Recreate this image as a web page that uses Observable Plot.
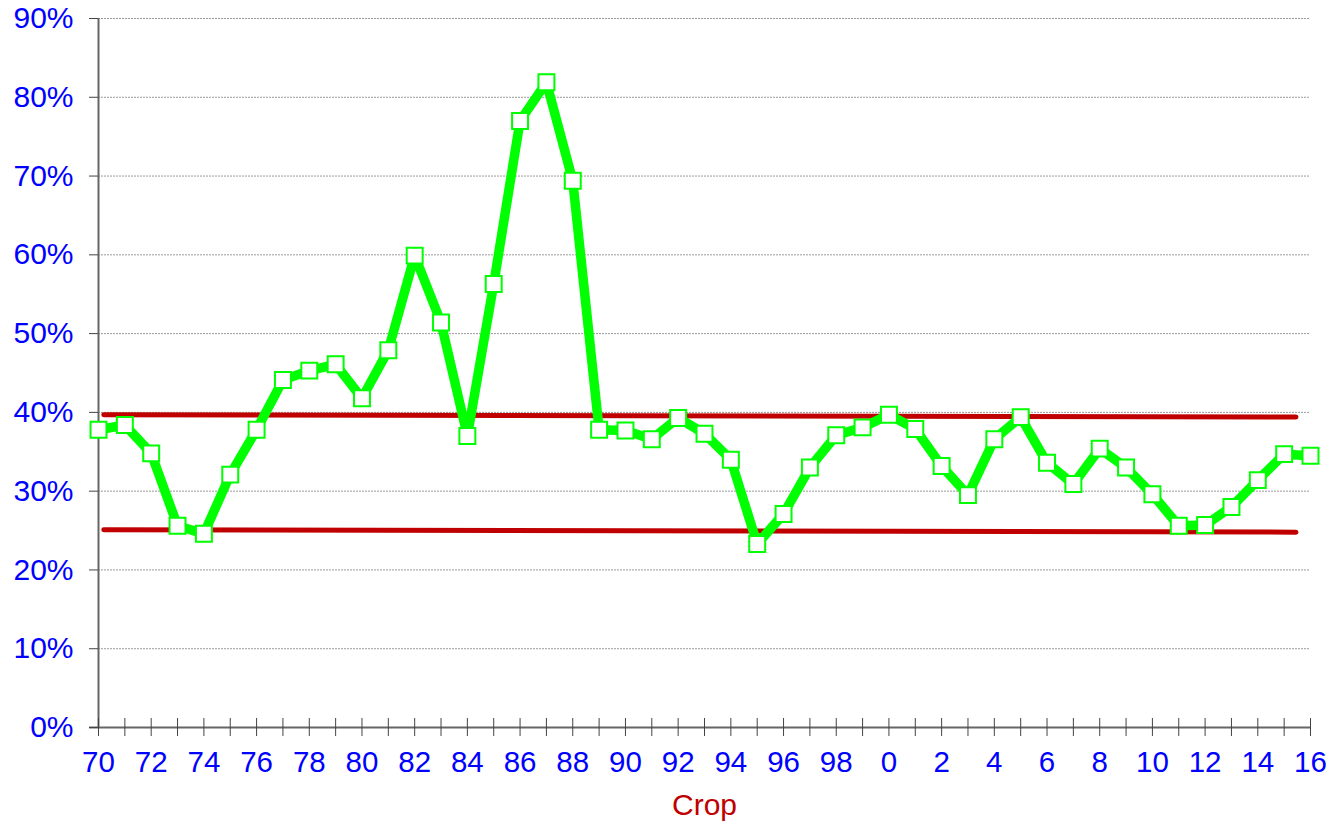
<!DOCTYPE html>
<html>
<head>
<meta charset="utf-8">
<script src="https://cdn.jsdelivr.net/npm/d3@7"></script>
<script src="https://cdn.jsdelivr.net/npm/@observablehq/plot@0.6"></script>
<style>
  html, body { margin: 0; padding: 0; background: #fff; }
  #chart svg { display: block; }
</style>
</head>
<body>
<div id="chart"></div>
<script>
// Crop years (labels as shown on the axis)
const crops = ["70","71","72","73","74","75","76","77","78","79",
               "80","81","82","83","84","85","86","87","88","89",
               "90","91","92","93","94","95","96","97","98","99",
               "0","1","2","3","4","5","6","7","8","9",
               "10","11","12","13","14","15","16"];
// Share (%) per crop year
const shares = [37.8, 38.4, 34.8, 25.6, 24.6, 32.1, 37.8, 44.1, 45.3, 46.1,
                41.8, 47.9, 59.9, 51.4, 37.0, 56.3, 77.0, 81.9, 69.4, 37.8,
                37.7, 36.6, 39.3, 37.3, 34.0, 23.3, 27.1, 33.0, 37.1, 38.1,
                39.7, 37.9, 33.2, 29.5, 36.6, 39.4, 33.6, 30.9, 35.4, 33.0,
                29.6, 25.6, 25.7, 28.0, 31.4, 34.7, 34.5];
// Band lines (position along crop index, value %)
const bandX = [0.2, 45.45];
const upperBand = [39.7, 39.4];
const lowerBand = [25.1, 24.8];
const yTicks = [0, 10, 20, 30, 40, 50, 60, 70, 80, 90];

const series = crops.map((c, i) => ({i, crop: c, v: shares[i]}));
const upper = bandX.map((x, k) => ({x, v: upperBand[k]}));
const lower = bandX.map((x, k) => ({x, v: lowerBand[k]}));
const allIdx = crops.map((c, i) => i);
const evenIdx = allIdx.filter(i => i % 2 === 0);

const blue = "#0000ff";
const red = "#c00000";
const green = "#00ff00";

const chart = Plot.plot({
  width: 1335,
  height: 825,
  marginLeft: 98,
  marginRight: 25,
  marginTop: 18,
  marginBottom: 98,
  style: {fontFamily: "Liberation Sans, Arial, sans-serif", background: "#fff"},
  x: {type: "linear", domain: [0, crops.length - 1]},
  y: {domain: [0, 90]},
  marks: [
    Plot.gridY(yTicks, {stroke: "#9a9a9a", strokeOpacity: 1, strokeWidth: 1, strokeDasharray: "2,1"}),
    Plot.ruleX([0], {stroke: "#666", strokeWidth: 2}),
    Plot.ruleY([0], {stroke: "#666", strokeWidth: 2, x1: -0.34, x2: crops.length - 1}),
    Plot.axisY(yTicks, {
      tickSize: 9, tickPadding: 16, stroke: "#444",
      tickFormat: d => d + "%", fill: blue, fontSize: 30, label: null
    }),
    Plot.axisX(allIdx, {
      tickSize: 18, dy: -9, tickFormat: () => "", stroke: "#444", label: null
    }),
    Plot.axisX(evenIdx, {
      tickSize: 0, tickPadding: 24, tickFormat: i => crops[i],
      fill: blue, fontSize: 29.5, label: null
    }),
    Plot.text(["Crop"], {frameAnchor: "bottom", dy: 87, fill: red, fontSize: 30}),
    Plot.line(upper, {x: "x", y: "v", stroke: red, strokeWidth: 5}),
    Plot.line(lower, {x: "x", y: "v", stroke: red, strokeWidth: 5}),
    Plot.line(series, {x: "i", y: "v", stroke: green, strokeWidth: 9.5, strokeLinejoin: "miter"}),
    Plot.dot(series, {x: "i", y: "v", symbol: "square", r: 9, fill: "#fff", stroke: green, strokeWidth: 2})
  ]
});
document.getElementById("chart").append(chart);
</script>
</body>
</html>
